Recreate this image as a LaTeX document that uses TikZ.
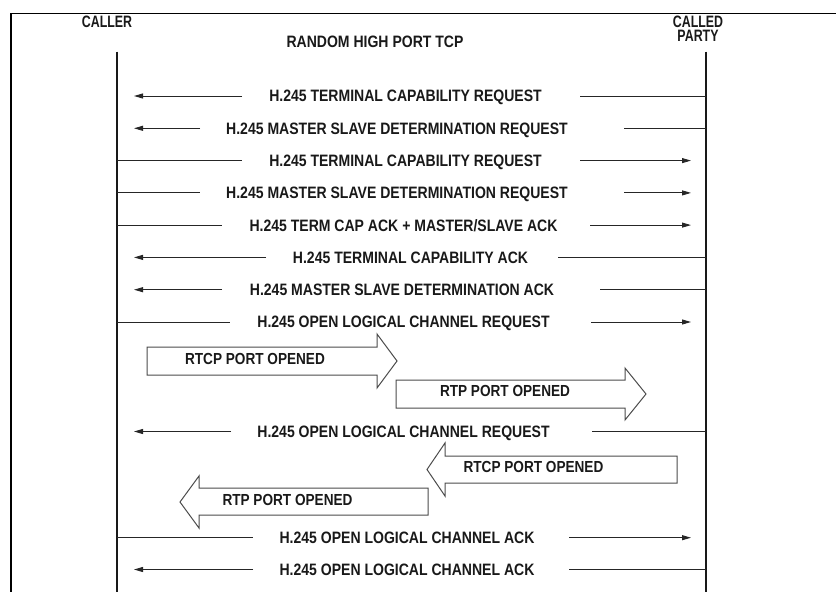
\documentclass[tikz,border=0pt]{standalone}
\usepackage{fontspec}
\newfontfamily\dfont{Liberation Sans}[FakeStretch=0.85]
\newfontfamily\hfont{Liberation Sans}[FakeStretch=0.75]
\usetikzlibrary{arrows.meta}
% message from called party to caller (arrow points left)
\newcommand\msgLeft[6]{%
  \node[msg] (#1) at (#4,#2) {#6};
  \coordinate (#1-l) at (#3,#2);
  \coordinate (#1-r) at (#5,#2);
  \coordinate (#1-t) at (134,#2);
  \coordinate (#1-b) at (706,#2);
  \draw[wire] (#1-b) -- (#1-r);
  \draw[wire,tip] (#1-l) -- (#1-t);
}
% message from caller to called party (arrow points right)
\newcommand\msgRight[6]{%
  \node[msg] (#1) at (#4,#2) {#6};
  \coordinate (#1-l) at (#3,#2);
  \coordinate (#1-r) at (#5,#2);
  \coordinate (#1-a) at (117,#2);
  \coordinate (#1-t) at (691,#2);
  \draw[wire] (#1-a) -- (#1-l);
  \draw[wire,tip] (#1-r) -- (#1-t);
}
\begin{document}
\begin{tikzpicture}[x=1pt,y=-1pt,
  msg/.style={font=\dfont\bfseries\fontsize{16.5}{18}\selectfont, text=black!90,
    inner sep=0pt, text height=11.8pt, text depth=0pt},
  lbl/.style={font=\dfont\bfseries\fontsize{16}{18}\selectfont, text=black!90,
    inner sep=0pt, text height=11.5pt, text depth=0pt},
  hdr/.style={font=\hfont\bfseries\fontsize{16.5}{18}\selectfont, text=black!90,
    inner sep=0pt, text height=11.8pt, text depth=0pt},
  wire/.style={draw=black!85, line width=0.9pt},
  tip/.style={-{Triangle[length=9pt,width=5pt]}},
  life/.style={draw=black!90, line width=2.6pt},
  blk/.style={draw=black!70, line width=1pt, fill=white, line join=miter},
  frame/.style={draw=black, line width=1.2pt}]
\useasboundingbox (0,0) rectangle (836,592);
\fill[white] (0,0) rectangle (836,592);
\draw[frame] (836,13.3) -- (11,13.3) -- (11,592);

% headers
\node[hdr] (caller) at (107,21.5) {CALLER};
\node[hdr] (called) at (698,21.5) {CALLED};
\node[hdr] (party) at (698,35.5) {PARTY};
\node[msg] (tcp) at (375,42) {RANDOM HIGH PORT TCP};

% lifelines
\coordinate (A0) at (117,51.7);
\coordinate (A1) at (117,592);
\coordinate (B0) at (706,51.7);
\coordinate (B1) at (706,592);
\draw[life] (A0) -- (A1);
\draw[life] (B0) -- (B1);

% messages
\msgLeft{m1}{96}{242}{405.5}{580}{H.245 TERMINAL CAPABILITY REQUEST}
\msgLeft{m2}{128.3}{200}{397}{624}{H.245 MASTER SLAVE DETERMINATION REQUEST}
\msgRight{m3}{160.6}{242}{405.5}{580}{H.245 TERMINAL CAPABILITY REQUEST}
\msgRight{m4}{192.9}{200}{397}{624}{H.245 MASTER SLAVE DETERMINATION REQUEST}
\msgRight{m5}{225.1}{222}{403.5}{590}{H.245 TERM CAP ACK + MASTER/SLAVE ACK}
\msgLeft{m6}{257.4}{266}{410.5}{558}{H.245 TERMINAL CAPABILITY ACK}
\msgLeft{m7}{289.7}{222}{402}{600}{H.245 MASTER SLAVE DETERMINATION ACK}
\msgRight{m8}{322}{230}{403.5}{591}{H.245 OPEN LOGICAL CHANNEL REQUEST}
\msgLeft{m9}{431.5}{231}{403.5}{592}{H.245 OPEN LOGICAL CHANNEL REQUEST}
\msgRight{m10}{537.7}{253}{407}{569}{H.245 OPEN LOGICAL CHANNEL ACK}
\msgLeft{m11}{569.5}{253}{407}{569}{H.245 OPEN LOGICAL CHANNEL ACK}

% block arrows
\draw[blk] (147,347) -- (377,347) -- (377,334) -- (397,361) -- (377,388) -- (377,375) -- (147,375) -- cycle;
\node[lbl] (p1) at (255,359) {RTCP PORT OPENED};
\draw[blk] (396,380) -- (625,380) -- (625,368) -- (646,394) -- (625,420) -- (625,408) -- (396,408) -- cycle;
\node[lbl] (p2) at (505,391) {RTP PORT OPENED};
\draw[blk] (677,456) -- (445,456) -- (445,443) -- (427,469.5) -- (445,496) -- (445,483) -- (677,483) -- cycle;
\node[lbl] (p3) at (533.5,467) {RTCP PORT OPENED};
\draw[blk] (428,488) -- (199,488) -- (199,476) -- (180,502) -- (199,528) -- (199,515) -- (428,515) -- cycle;
\node[lbl] (p4) at (287.5,500) {RTP PORT OPENED};
\end{tikzpicture}
\end{document}
